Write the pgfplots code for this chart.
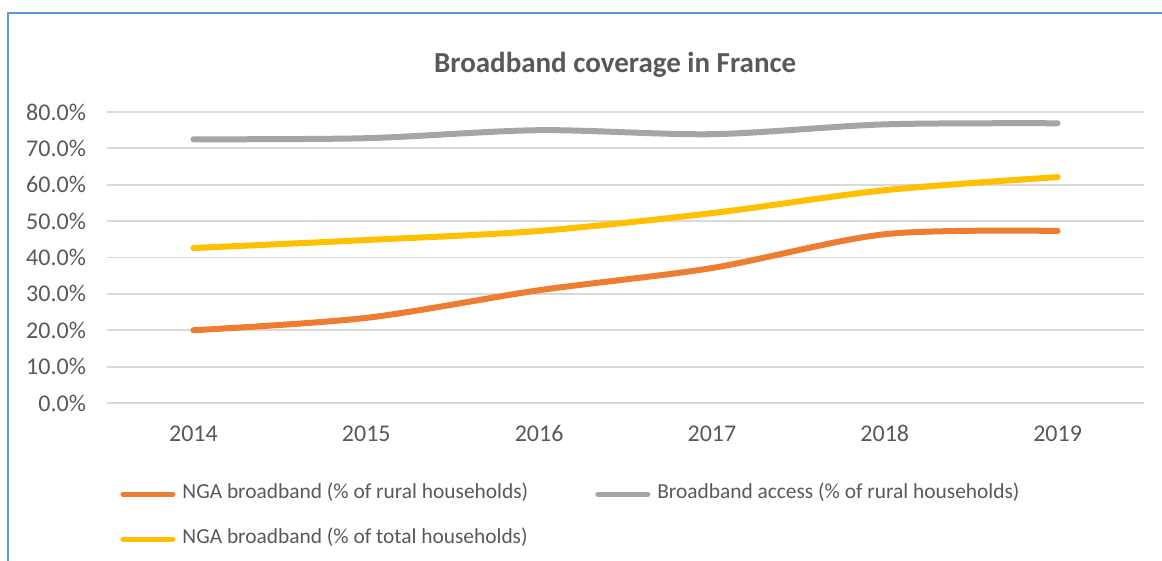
\documentclass[border=0pt]{standalone}
\usepackage{pgfplots}
\pgfplotsset{compat=1.18}
\usepackage{fontspec}
\setmainfont{Carlito}
\definecolor{cOrange}{HTML}{ED7D31}
\definecolor{cGray}{HTML}{A5A5A5}
\definecolor{cYellow}{HTML}{FFC000}
\definecolor{cText}{HTML}{595959}
\definecolor{cGrid}{HTML}{D9D9D9}
\definecolor{cFrame}{HTML}{5B9BD5}
\begin{document}
\begin{tikzpicture}
\useasboundingbox (-53.5pt,-79pt) rectangle (527.5pt,201.5pt);
\fill[white] (-53.5pt,-79pt) rectangle (527.5pt,201.5pt);
\draw[cFrame, line width=1.2pt] (-49.5pt,-80pt) -- (-49.5pt,195pt) -- (528pt,195pt);
\begin{axis}[
  at={(0pt,0pt)}, anchor=south west,
  scale only axis, width=518.5pt, height=145.5pt,
  xmin=-0.5, xmax=5.5, ymin=0, ymax=80,
  xtick={0,1,2,3,4,5},
  xticklabels={2014,2015,2016,2017,2018,2019},
  ytick={0,10,20,30,40,50,60,70,80},
  yticklabel={\pgfmathprintnumber[fixed,fixed zerofill,precision=1]{\tick}\%},
  /pgf/number format/assume math mode=true,
  axis line style={draw=none},
  major tick length=0pt,
  ymajorgrids, grid style={cGrid, line width=0.9pt},
  tick label style={font=\fontsize{12}{14}\selectfont, text=cText},
  yticklabel style={xshift=-7pt},
  xticklabel style={yshift=-7pt, text height=8.5pt, text depth=0pt},
  title={Broadband coverage in France},
  title style={at={(0.49,1)}, anchor=center, yshift=17.5pt, font=\fontsize{14.5}{17}\selectfont\bfseries, text=cText},
  legend columns=2,
  legend cell align=left,
  legend image code/.code={\draw[#1, line width=2.5pt, line cap=round] (0pt,0pt) -- (25pt,0pt);},
  legend style={at={(0.0068,-0.266)}, anchor=north west, draw=none, fill=none,
    font=\fontsize{10.7}{12}\selectfont, text=cText,
    nodes={inner sep=0pt, text height=7pt, text depth=2.5pt, anchor=west},
    /tikz/every odd column/.append style={column sep=3.5pt},
    /tikz/column 2/.append style={column sep=33.5pt},
    row sep=13pt},
]
\addplot[cOrange, line width=3pt, smooth, line cap=round] coordinates {
 (0,20.0) (1,23.4) (2,31.0) (3,37.1) (4,46.4) (5,47.3)};
\addlegendentry{NGA broadband (\% of rural households)}
\addplot[cGray, line width=3pt, smooth, line cap=round] coordinates {
 (0,72.5) (1,72.8) (2,75.0) (3,73.9) (4,76.6) (5,76.9)};
\addlegendentry{Broadband access (\% of rural households)}
\addplot[cYellow, line width=3pt, smooth, line cap=round] coordinates {
 (0,42.6) (1,44.8) (2,47.3) (3,52.2) (4,58.5) (5,62.1)};
\addlegendentry{NGA broadband (\% of total households)}
\end{axis}
\end{tikzpicture}
\end{document}
